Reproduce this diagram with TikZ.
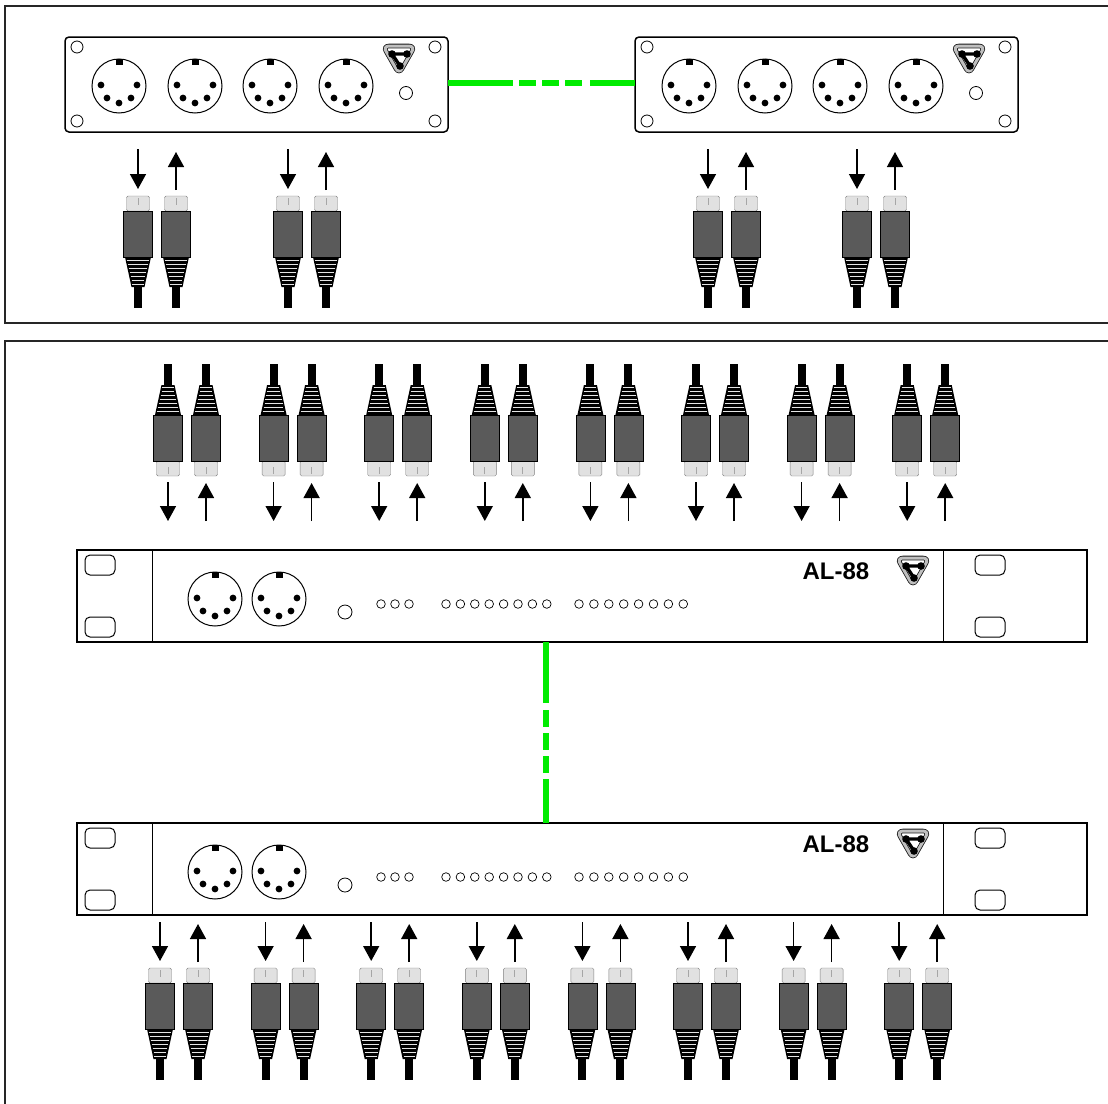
\documentclass[tikz,border=0pt]{standalone}
\usepackage{fontspec}
\setmainfont{Liberation Sans}
\usetikzlibrary{arrows.meta}
\definecolor{linkgreen}{RGB}{0,235,0}
\definecolor{headgrey}{RGB}{225,225,225}
\definecolor{bodygrey}{RGB}{90,90,90}
\tikzset{
  frameline/.style={line width=2pt, draw=black!85},
  flow/.style={line width=1.5pt, -{Triangle[width=16pt,length=15pt]}},
  link/.style={line width=6pt, draw=linkgreen},
  pics/din/.style={code={
    \draw[line width=1pt] (0,0) circle (27pt);
    \fill (-3.5,-27) rectangle (3.5,-21);
    \foreach \px/\py in {-18/-1,18/-1,-12/12,12/12,0/17}
      \fill (\px,\py) circle (3.4pt);
  }},
  pics/logo/.style={code={
    \draw[draw=gray!20!black, double=gray!50, double distance=3pt,
          line width=0.8pt, rounded corners=6pt, fill=white]
      (-16,-13) -- (16,-13) -- (0,15) -- cycle;
    \draw[line width=3.4pt, line cap=round] (-7,-5) -- (8,-5) (-7,-5) -- (1,7);
    \foreach \px/\py in {-7/-5,8/-5,1/7} \fill (\px,\py) circle (3.8pt);
  }},
  pics/plug/.style={code={
    % moulded head with its centre rib
    \draw[gray, fill=headgrey, rounded corners=1.5pt] (-11.5,0) rectangle (11.5,15);
    \draw[gray!70, line width=0.8pt] (0,2) -- (0,9);
    % grip body
    \draw[black, fill=bodygrey, line width=0.8pt] (-14.5,15) rectangle (14.5,61);
    % ribbed strain relief
    \fill (-13,61) -- (13,61) -- (6.5,91) -- (-6.5,91) -- cycle;
    \foreach \s in {64.5,68.5,...,89}
      \draw[white!90!black, line width=0.8pt]
        ({-(13-6.5*(\s-61)/30)+1.5},\s) -- ({13-6.5*(\s-61)/30-1.5},\s);
    % cable
    \fill (-4,91) rectangle (4,112);
  }},
  pics/panel/.style={code={
    \draw[line width=1.5pt, rounded corners=4pt] (0,0) rectangle (383,95);
    \foreach \px/\py in {12/10,370/10,12/84,370/84}
      \draw[line width=0.8pt] (\px,\py) circle (6pt);
    \foreach \px in {54,130,205,281} \pic at (\px,49) {din};
    \pic at (334,22) {logo};
    \draw[line width=0.8pt] (341,56) circle (6.5pt);
    \coordinate (-west) at (0,46);
    \coordinate (-east) at (383,46);
  }},
  pics/rack/.style={code={
    \draw[line width=1.6pt] (0,0) rectangle (1010,92);
    \draw[line width=1pt] (75,0) -- (75,92) (866,0) -- (866,92);
    \foreach \hx/\hy in {8/5,8/67,898/5,898/67}
      \draw[line width=1pt, rounded corners=5pt] (\hx,\hy) rectangle ++(30,20);
    \pic at (138,49) {din};
    \pic at (202,49) {din};
    \draw[line width=0.8pt] (268,62) circle (7pt);
    \foreach \i in {0,1,2} \draw[line width=0.7pt] (304+14*\i,54) circle (4.3pt);
    \foreach \i in {0,...,7} \draw[line width=0.7pt] (369+14.4*\i,54) circle (4.3pt);
    \foreach \i in {0,...,7} \draw[line width=0.7pt] (502+14.9*\i,54) circle (4.3pt);
    \node[font=\fontsize{24}{24}\selectfont\bfseries, inner sep=0pt] (-name) at (759,21) {AL-88};
    \pic at (836,21) {logo};
    \coordinate (-north) at (469,0);
    \coordinate (-south) at (469,92);
  }}
}
\begin{document}
\begin{tikzpicture}[x=1pt,y=-1pt]
\useasboundingbox (0,0) rectangle (1108,1103);
\clip (0,0) rectangle (1108,1103);

% the two enclosing frames
\draw[frameline] (1115,6) -- (5,6) -- (5,323) -- (1115,323);
\draw[frameline] (1115,341) -- (5,341) -- (5,1110);

% small interface boxes and their link
\pic (pa) at (65,37) {panel};
\pic (pb) at (635,37) {panel};
\draw[link, dash pattern=on 65pt off 6pt on 17pt off 6pt on 17pt off 6pt on 17pt off 8pt on 80pt]
  (pa-east) -- (pb-west);

% cables on the small boxes
\foreach \x in {138,288,708,857} {
  \pic at (\x,196) {plug};
  \pic at (\x+38,196) {plug};
  \draw[flow] (\x,149) -- (\x,189);
  \draw[flow] (\x+38,190) -- (\x+38,152);
}

% rack units and their link
\pic (ra) at (77,550) {rack};
\pic (rb) at (77,823) {rack};
\draw[link, dash pattern=on 61pt off 7pt on 17pt off 6pt on 17pt off 6pt on 17pt off 6pt on 80pt]
  (ra-south) -- (rb-north);

% cables above the upper rack
\foreach \i in {0,...,7} {
  \pgfmathsetmacro{\x}{168+105.6*\i}
  \pic[yscale=-1] at (\x,476) {plug};
  \pic[yscale=-1] at (\x+38,476) {plug};
  \draw[flow] (\x,482) -- (\x,521);
  \draw[flow] (\x+38,521) -- (\x+38,483);
}

% cables below the lower rack
\foreach \i in {0,...,7} {
  \pgfmathsetmacro{\x}{160+105.6*\i}
  \pic at (\x,968) {plug};
  \pic at (\x+38,968) {plug};
  \draw[flow] (\x,922) -- (\x,961);
  \draw[flow] (\x+38,962) -- (\x+38,924);
}
\end{tikzpicture}
\end{document}
